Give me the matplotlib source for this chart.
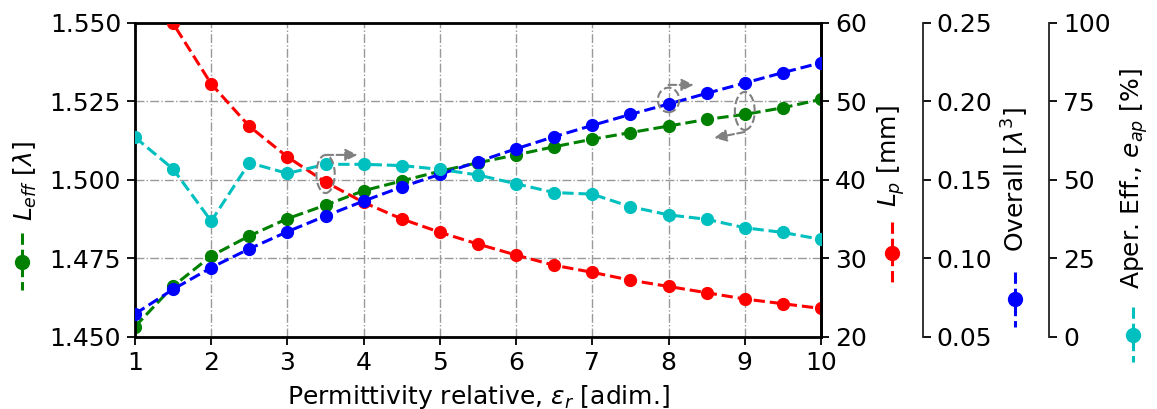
import matplotlib
matplotlib.use("Agg")
import matplotlib.pyplot as plt
from matplotlib.lines import Line2D
from matplotlib.patches import Ellipse

# ── Data ─────────────────────────────────────────────────────────────────────
eps_r = [1, 1.5, 2, 2.5, 3, 3.5, 4, 4.5, 5, 5.5, 6, 6.5, 7, 7.5, 8, 8.5, 9, 9.5, 10]

l_eff = [1.4532, 1.4661, 1.4757, 1.4821, 1.4876, 1.4919, 1.4965, 1.4996, 1.5027, 1.5054,
         1.5079, 1.5105, 1.5129, 1.5150, 1.5171, 1.5192, 1.5208, 1.5229, 1.5256]

l_p = [71.0, 59.9, 52.2, 46.8, 42.9, 39.7, 37.1, 35.0, 33.3, 31.8,
       30.4, 29.1, 28.2, 27.2, 26.4, 25.6, 24.8, 24.2, 23.6]

overall = [0.0645, 0.0802, 0.0940, 0.1060, 0.1169, 0.1269, 0.1364, 0.1454, 0.1534, 0.1615,
           0.1697, 0.1774, 0.1846, 0.1916, 0.1982, 0.2050, 0.2116, 0.2182, 0.2245]

aper_eff = [63.5, 53.4, 36.8, 55.4, 52.0, 54.9, 54.9, 54.5, 53.3, 51.5,
            48.7, 45.9, 45.4, 41.4, 38.8, 37.4, 34.7, 33.2, 31.0]

W, H = 1157, 409
FS = 18
plt.rcParams.update({"font.size": FS, "font.family": "DejaVu Sans",
                     "mathtext.fontset": "dejavusans"})

fig = plt.figure(figsize=(W / 100, H / 100), dpi=100)
ax = fig.add_axes([135 / W, 1 - 336.7 / H, 686 / W, 314 / H])
ax_p = ax.twinx()
ax_o = ax.twinx()
ax_a = ax.twinx()

for a in (ax_o, ax_a):
    for s in ("top", "bottom", "left"):
        a.spines[s].set_visible(False)
    a.spines["right"].set_linewidth(1.3)
    a.spines["right"].set_color("#222222")
ax_o.spines["right"].set_position(("axes", 1.148))
ax_a.spines["right"].set_position(("axes", 1.333))

for s in ax.spines.values():
    s.set_linewidth(2)
ax_p.spines["right"].set_linewidth(2)

kw = dict(ls="--", lw=2.2, marker="o", ms=8.5)
ax.plot(eps_r, l_eff, color="green", **kw)
ax_p.plot(eps_r, l_p, color="red", **kw)
ax_o.plot(eps_r, overall, color="blue", **kw)
ax_a.plot(eps_r, aper_eff, color="c", **kw)

ax.set_xlim(1, 10)
ax.set_xticks(range(1, 11))
ax.set_ylim(1.45, 1.55)
ax.set_yticks([1.45, 1.475, 1.5, 1.525, 1.55])
ax.set_yticklabels(["1.450", "1.475", "1.500", "1.525", "1.550"])
ax_p.set_ylim(20, 60)
ax_p.set_yticks([20, 30, 40, 50, 60])
ax_o.set_ylim(0.05, 0.25)
ax_o.set_yticks([0.05, 0.10, 0.15, 0.20, 0.25])
ax_o.set_yticklabels(["0.05", "0.10", "0.15", "0.20", "0.25"])
ax_a.set_ylim(0, 100)
ax_a.set_yticks([0, 25, 50, 75, 100])

ax.grid(True, color="#999999", ls="-.", lw=1)
for a in (ax, ax_p, ax_o, ax_a):
    a.tick_params(length=6, width=1.3, labelsize=FS, pad=4)

ax.set_xlabel(r"Permittivity relative, $\varepsilon_r$ [adim.]", fontsize=FS, labelpad=6)

# y labels with their legend handles
labels = [
    (r"$L_{eff}$ [$\lambda$]", 25, 181.5, "green", 21.7, 233, 290, 262),
    (r"$L_p$ [mm]", 891.5, 156, "red", 891.7, 222, 283, 253),
    (r"Overall [$\lambda^3$]", 1015, 179, "blue", 1015, 272, 327, 299),
    (r"Aper. Eff., $e_{ap}$ [%]", 1134, 179, "c", 1132.7, 307, 362, 335),
]
for txt, tx, ty, col, hx, y0, y1, ym in labels:
    fig.text(tx / W, 1 - ty / H, txt, rotation=90, ha="center", va="center", fontsize=FS)
    fig.add_artist(Line2D([hx / W, hx / W], [1 - y0 / H, 1 - y1 / H], color=col,
                          ls="--", lw=2.2, transform=fig.transFigure))
    fig.add_artist(Line2D([hx / W], [1 - ym / H], color=col, marker="o", ms=10,
                          transform=fig.transFigure))

# dashed ellipses + arrows pointing to the axis of each curve
ell = dict(fill=False, ls="--", lw=1.5, ec="gray", transform=ax.transData, zorder=10)
ax_a.add_patch(Ellipse((3.5, 1.5018), 0.24, 0.0121, **ell))
ax_a.add_patch(Ellipse((8.0, 1.5254), 0.28, 0.0078, **ell))
ax_a.add_patch(Ellipse((9.0, 1.5219), 0.26, 0.0121, **ell))

arr = dict(arrowstyle="-|>", ls="--", lw=1.5, color="gray", mutation_scale=18,
           shrinkA=0, shrinkB=0)
ax.annotate("", xy=(3.92, 1.5079), xytext=(3.5, 1.5079), xycoords=ax.transData,
            arrowprops=arr, zorder=10)
ax.annotate("", xy=(8.33, 1.5302), xytext=(8.0, 1.5302), arrowprops=arr, zorder=10)
ax.annotate("", xy=(8.6, 1.5133), xytext=(9.0, 1.5152), arrowprops=arr, zorder=10)

fig.savefig("out.png", dpi=100)
